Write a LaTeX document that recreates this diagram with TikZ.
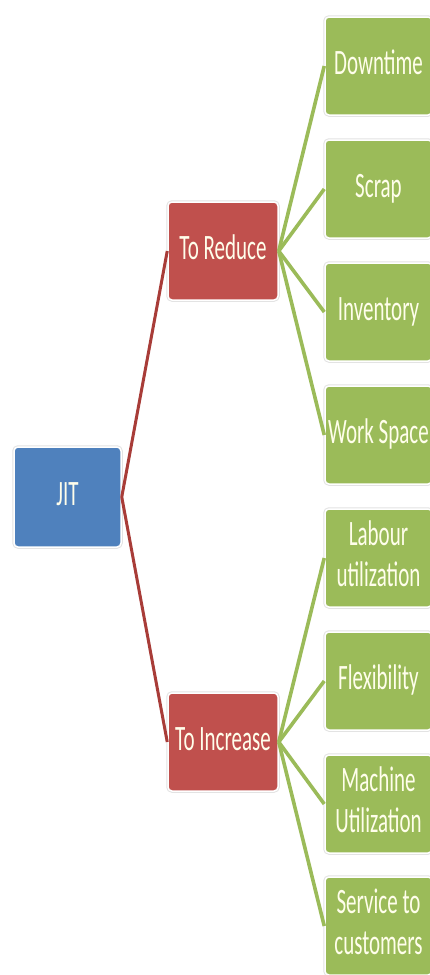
\documentclass[tikz,border=0pt]{standalone}
\usepackage{fontspec}
\usepackage{graphicx}
\setmainfont{Carlito}
\definecolor{jitblue}{HTML}{4F81BD}
\definecolor{jitred}{HTML}{C0504D}
\definecolor{jitgreen}{HTML}{9BBB59}
\definecolor{linered}{HTML}{A83C38}
\newcommand{\stretchtxt}[1]{\scalebox{1}[1.7]{\begin{tabular}{@{}c@{}}#1\end{tabular}}}
\tikzset{
  boxbase/.style={rectangle, rounded corners=4pt, inner sep=0pt,
    preaction={draw=gray!22, line width=3.5pt},
    draw=white, line width=1.5pt, text=white!92!yellow,
    font=\fontsize{21}{24}\selectfont},
  rootbox/.style={boxbase, fill=jitblue, minimum width=107pt, minimum height=100pt},
  midbox/.style={boxbase, fill=jitred, minimum width=110pt, minimum height=98pt},
  leafbox/.style={boxbase, fill=jitgreen, minimum width=107pt, minimum height=98pt},
  redlink/.style={draw=linered, line width=3pt},
  greenlink/.style={draw=jitgreen, line width=3.6pt}
}
\begin{document}
\begin{tikzpicture}[x=1pt,y=1pt]
\useasboundingbox (0,0) rectangle (430,-975);
\clip (0,0) rectangle (430,-975);
\fill[white] (0,0) rectangle (430,-975);

\node[rootbox] (jit) at (67.5,-497) {\stretchtxt{JIT}};
\node[midbox] (red) at (223,-251) {\stretchtxt{To Reduce}};
\node[midbox] (inc) at (223,-742) {\stretchtxt{To Increase}};

\node[leafbox] (l1) at (378.5,-66) {\stretchtxt{Downtime}};
\node[leafbox] (l2) at (378.5,-189) {\stretchtxt{Scrap}};
\node[leafbox] (l3) at (378.5,-312) {\stretchtxt{Inventory}};
\node[leafbox] (l4) at (378.5,-435) {\stretchtxt{Work Space}};
\node[leafbox] (l5) at (378.5,-558) {\stretchtxt{Labour\\utilization}};
\node[leafbox] (l6) at (378.5,-681) {\stretchtxt{Flexibility}};
\node[leafbox] (l7) at (378.5,-804) {\stretchtxt{Machine\\Utilization}};
\node[leafbox] (l8) at (378.5,-926) {\stretchtxt{Service to\\customers}};

\draw[redlink] (jit.east) -- (red.west);
\draw[redlink] (jit.east) -- (inc.west);
\foreach \n in {l1,l2,l3,l4} \draw[greenlink] (red.east) -- (\n.west);
\foreach \n in {l5,l6,l7,l8} \draw[greenlink] (inc.east) -- (\n.west);
\end{tikzpicture}
\end{document}
